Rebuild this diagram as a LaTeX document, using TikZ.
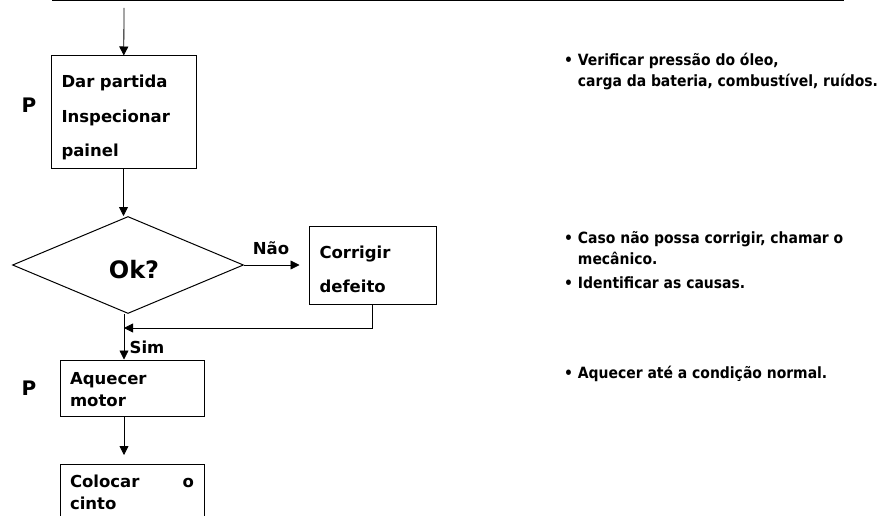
\documentclass[tikz,border=0pt]{standalone}
\usepackage{fontspec}
\setmainfont{DejaVu Sans}
\newfontfamily\notefont{DejaVu Sans Condensed}
\usetikzlibrary{shapes.geometric,arrows.meta}

\tikzset{
	stepbox/.style={draw,line width=1pt,rectangle,align=left,inner xsep=10pt,inner ysep=0pt},
	flow/.style={line width=0.8pt,-{Triangle[length=9pt,width=9pt]}},
	tip/.style={anchor=base west,align=left,inner sep=0pt,font=\notefont\bfseries\fontsize{15.5}{21}\selectfont}
}

\begin{document}
\begin{tikzpicture}
	[x=1pt,y=-1pt,font=\bfseries\fontsize{16.5}{21}\selectfont]
	\useasboundingbox (0,0) rectangle (885,516);
	\clip (0,0) rectangle (885,516);
	\draw[line width=1.2pt] (52,0.6) -- (844,0.6);
	
	% left column
	\coordinate (start) at (124,8);
	\node[stepbox,minimum width=145pt,minimum height=112pt,text width=124pt] (n1) at (123.5,112) {\rule{0pt}{23pt}Dar partida\\[14pt]Inspecionar\\[13pt]painel};
	\node[draw,line width=1pt,diamond,minimum width=231pt,minimum height=97pt,inner sep=0pt,font=\bfseries\fontsize{24}{28}\selectfont] (n2) at (128,265) {\hspace*{12pt}\rule{0pt}{27pt}Ok?};
	\node[stepbox,minimum width=127pt,minimum height=78pt,text width=106pt] (n3) at (372.5,265) {\rule{0pt}{22pt}Corrigir\\[13pt]defeito};
	\node[stepbox,minimum width=144pt,minimum height=56pt,text width=124pt] (n4) at (132,388) {\rule{0pt}{15pt}Aquecer\\[1pt]motor};
	\node[stepbox,minimum width=144pt,minimum height=56pt,text width=124pt,anchor=north] (n5) at (132,464) {Colocar\hfill o\\[1pt]cinto};
	\coordinate (join) at (124,328);
	
	\draw[flow] (start) -- (n1);
	\draw[flow] (n1) -- (n1.south |- n2.north);
	\draw[flow,shorten >=9pt] (n2.east) -- (n3.west);
	\draw[flow] (n3.south) |- (join);
	\draw[flow] (join |- n2.south) -- (join |- n4.north);
	\draw[flow,shorten >=9pt] (join |- n4.south) -- (join |- n5.north);
	
	\node (no) at (271,248) {Não};
	\node (yes) at (147,347) {Sim};
	\node[font=\bfseries\fontsize{20}{24}\selectfont] (p1) at (29,105) {P};
	\node[font=\bfseries\fontsize{20}{24}\selectfont] (p2) at (29,388) {P};
	
	% notes on the right
	\node[tip] (t1) at (564,87) {• Verificar pressão do óleo,\\\phantom{• }carga da bateria, combustível, ruídos.};
	\node[tip] (t2) at (564,288) {• Caso não possa corrigir, chamar o\\\phantom{• }mecânico.\\[3pt]• Identificar as causas.};
	\node[tip] (t3) at (564,378) {• Aquecer até a condição normal.};
\end{tikzpicture}
\end{document}
